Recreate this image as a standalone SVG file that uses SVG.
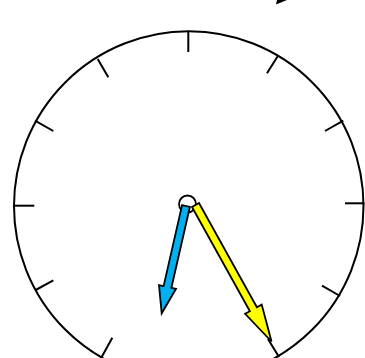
<svg xmlns="http://www.w3.org/2000/svg" width="365" height="358" viewBox="0 0 365 358">
  <style>
    .face { fill: #ffffff; stroke: #000000; stroke-width: 2; }
    .tick { stroke: #000000; stroke-width: 2; fill: none; }
    .hand { stroke: #000000; stroke-width: 1.8; stroke-linejoin: miter; }
    .hub { fill: #ffffff; stroke: #000000; stroke-width: 1.8; }
  </style>
  <rect x="0" y="0" width="365" height="358" fill="#ffffff"/>
  <g id="fragment">
    <polygon points="277,0 287,0 276,4.5" fill="#000000"/>
  </g>
  <g id="face">
    <circle class="face" cx="188.75" cy="206" r="174.75"/>
  </g>
  <g id="ticks">
    <line class="tick" x1="188.3" y1="31" x2="188.3" y2="52"/>
    <line class="tick" x1="278" y1="55.7" x2="267" y2="73.3"/>
    <line class="tick" x1="343.3" y1="120.7" x2="325" y2="131"/>
    <line class="tick" x1="364.5" y1="203.3" x2="345" y2="203.3"/>
    <line class="tick" x1="340" y1="296" x2="322" y2="285.7"/>
    <line class="tick" x1="279" y1="357" x2="268" y2="339"/>
    <line class="tick" x1="101.7" y1="357" x2="112.3" y2="337.7"/>
    <line class="tick" x1="35.7" y1="290" x2="53.3" y2="280.3"/>
    <line class="tick" x1="14" y1="205.7" x2="34.3" y2="205.7"/>
    <line class="tick" x1="35" y1="120.7" x2="53.3" y2="131"/>
    <line class="tick" x1="97.7" y1="59" x2="108.3" y2="77.3"/>
  </g>
  <g id="hub">
    <circle class="hub" cx="187.5" cy="204" r="8.5"/>
  </g>
  <g id="hour-hand">
    <polygon class="hand" fill="#00b0f0" points="182.1,205.1 189.9,206.9 171.4,287.9 176,288.9 161.7,313.3 159,285.1 163.6,286.1"/>
  </g>
  <g id="minute-hand">
    <polygon class="hand" fill="#ffff00" points="192,207 199,203 256.9,307.2 261.7,304.6 271.5,341.5 245.1,313.8 249.9,311.2"/>
  </g>
  <g id="connectors"></g>
</svg>
